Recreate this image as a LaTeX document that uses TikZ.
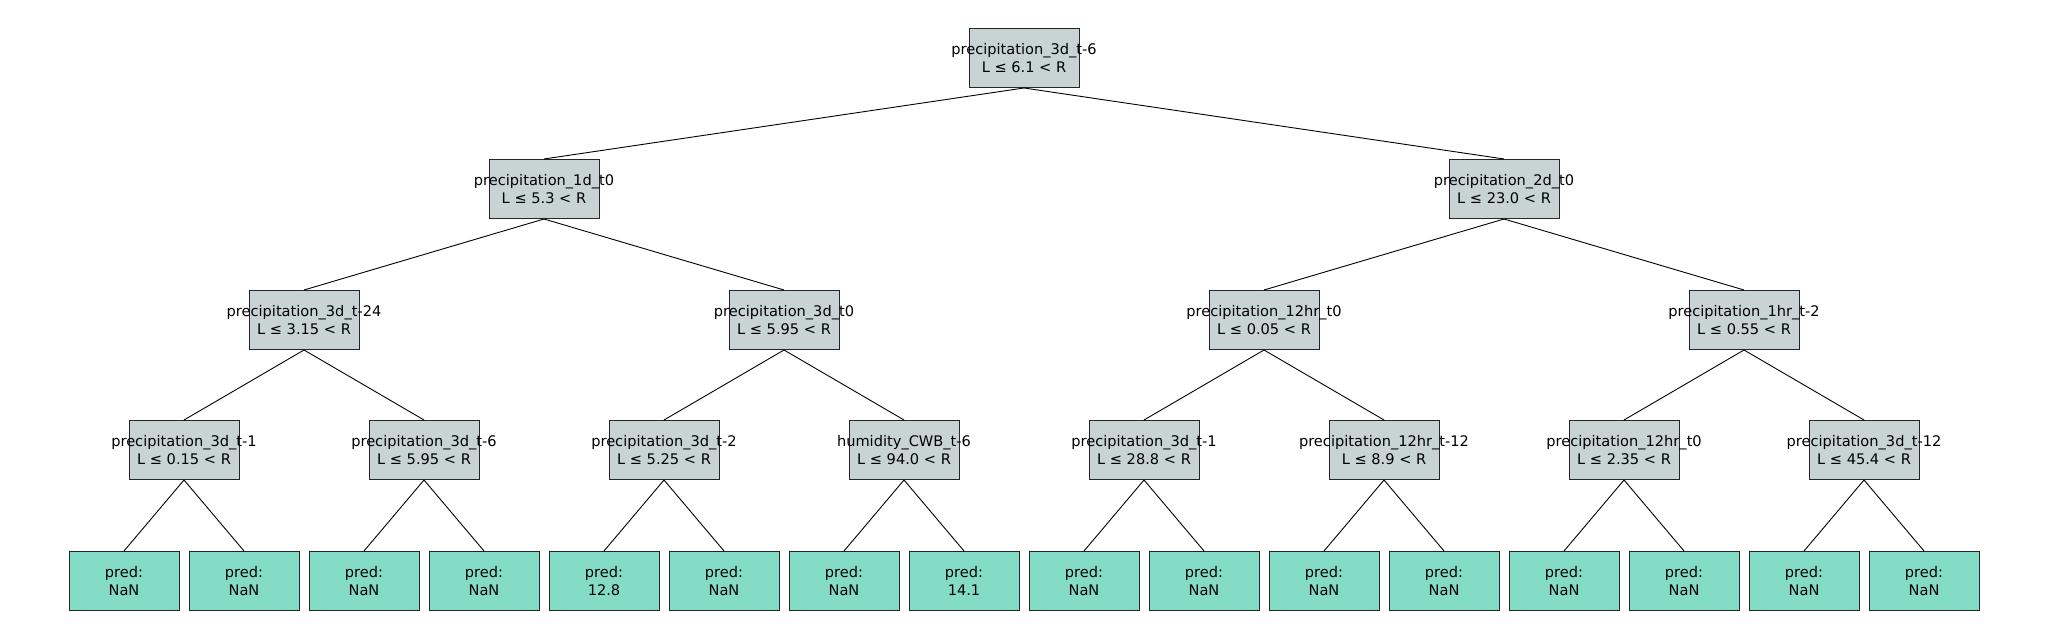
\documentclass[tikz,border=0pt]{standalone}
\usepackage{fontspec}
\setmainfont{DejaVu Sans}
\definecolor{splitgray}{HTML}{C8D4D4}
\definecolor{leafgreen}{HTML}{84DCC6}
\newcommand{\splitlabel}[2]{\makebox[0pt]{#1}\\\makebox[0pt]{#2}}
\tikzset{
  box/.style={rectangle,draw=black!85,line width=0.5pt,minimum width=55pt,
    minimum height=29.5pt,inner sep=0pt,align=center,
    font=\fontsize{7.3}{8.6}\selectfont},
  split/.style={box,fill=splitgray},
  leaf/.style={box,fill=leafgreen},
}
\begin{document}
\begin{tikzpicture}[x=0.5pt,y=-0.5pt]

          \useasboundingbox (0,0) rectangle (2048,640);

          \begin{scope}[every node/.style={split}]
            \node (1)  at (1024,58)  {\splitlabel{precipitation\_3d\_t-6}{L ≤ 6.1 < R}};
            \node (2)  at (544,189)  {\splitlabel{precipitation\_1d\_t0}{L ≤ 5.3 < R}};
            \node (3)  at (1504,189) {\splitlabel{precipitation\_2d\_t0}{L ≤ 23.0 < R}};
            \node (4)  at (304,320)  {\splitlabel{precipitation\_3d\_t-24}{L ≤ 3.15 < R}};
            \node (5)  at (784,320)  {\splitlabel{precipitation\_3d\_t0}{L ≤ 5.95 < R}};
            \node (6)  at (1264,320) {\splitlabel{precipitation\_12hr\_t0}{L ≤ 0.05 < R}};
            \node (7)  at (1744,320) {\splitlabel{precipitation\_1hr\_t-2}{L ≤ 0.55 < R}};
            \node (8)  at (184,450)  {\splitlabel{precipitation\_3d\_t-1}{L ≤ 0.15 < R}};
            \node (9)  at (424,450)  {\splitlabel{precipitation\_3d\_t-6}{L ≤ 5.95 < R}};
            \node (10) at (664,450)  {\splitlabel{precipitation\_3d\_t-2}{L ≤ 5.25 < R}};
            \node (11) at (904,450)  {\splitlabel{humidity\_CWB\_t-6}{L ≤ 94.0 < R}};
            \node (12) at (1144,450) {\splitlabel{precipitation\_3d\_t-1}{L ≤ 28.8 < R}};
            \node (13) at (1384,450) {\splitlabel{precipitation\_12hr\_t-12}{L ≤ 8.9 < R}};
            \node (14) at (1624,450) {\splitlabel{precipitation\_12hr\_t0}{L ≤ 2.35 < R}};
            \node (15) at (1864,450) {\splitlabel{precipitation\_3d\_t-12}{L ≤ 45.4 < R}};
          \end{scope}

          \begin{scope}[every node/.style={leaf}]
            \node (16) at (124,581)  {pred:\\NaN};
            \node (17) at (244,581)  {pred:\\NaN};
            \node (18) at (364,581)  {pred:\\NaN};
            \node (19) at (484,581)  {pred:\\NaN};
            \node (20) at (604,581)  {pred:\\12.8};
            \node (21) at (724,581)  {pred:\\NaN};
            \node (22) at (844,581)  {pred:\\NaN};
            \node (23) at (964,581)  {pred:\\14.1};
            \node (24) at (1084,581) {pred:\\NaN};
            \node (25) at (1204,581) {pred:\\NaN};
            \node (26) at (1324,581) {pred:\\NaN};
            \node (27) at (1444,581) {pred:\\NaN};
            \node (28) at (1564,581) {pred:\\NaN};
            \node (29) at (1684,581) {pred:\\NaN};
            \node (30) at (1804,581) {pred:\\NaN};
            \node (31) at (1924,581) {pred:\\NaN};
          \end{scope}

          \begin{scope}[every edge/.style={draw,line width=0.45pt}]
            \path (1.south)  edge (2.north);
            \path (1.south)  edge (3.north);
            \path (2.south)  edge (4.north);
            \path (2.south)  edge (5.north);
            \path (3.south)  edge (6.north);
            \path (3.south)  edge (7.north);
            \path (4.south)  edge (8.north);
            \path (4.south)  edge (9.north);
            \path (5.south)  edge (10.north);
            \path (5.south)  edge (11.north);
            \path (6.south)  edge (12.north);
            \path (6.south)  edge (13.north);
            \path (7.south)  edge (14.north);
            \path (7.south)  edge (15.north);
            \path (8.south)  edge (16.north);
            \path (8.south)  edge (17.north);
            \path (9.south)  edge (18.north);
            \path (9.south)  edge (19.north);
            \path (10.south) edge (20.north);
            \path (10.south) edge (21.north);
            \path (11.south) edge (22.north);
            \path (11.south) edge (23.north);
            \path (12.south) edge (24.north);
            \path (12.south) edge (25.north);
            \path (13.south) edge (26.north);
            \path (13.south) edge (27.north);
            \path (14.south) edge (28.north);
            \path (14.south) edge (29.north);
            \path (15.south) edge (30.north);
            \path (15.south) edge (31.north);
          \end{scope}

        \end{tikzpicture}
\end{document}
